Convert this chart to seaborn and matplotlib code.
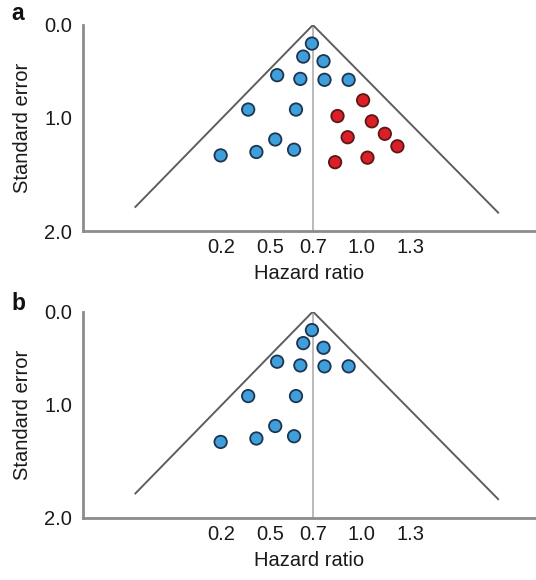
import numpy as np
import pandas as pd
import matplotlib
matplotlib.use("Agg")
import matplotlib.pyplot as plt
import seaborn as sns

# ---------------- data ----------------
hr_tick_labels = ["0.2", "0.5", "0.7", "1.0", "1.3"]
hr_tick_pos = [0.1, 1.12, 2.0, 3.0, 4.02]
se_ticks = [0.0, 1.0, 2.0]
se_tick_labels = ["0.0", "1.0", "2.0"]

# observed studies (blue)
obs_x = [1.98, 1.80, 2.22, 1.26, 1.74, 2.24, 2.74, 0.66, 1.65, 1.22, 0.83, 1.61, 0.09]
obs_se = [0.20, 0.34, 0.39, 0.54, 0.58, 0.59, 0.59, 0.91, 0.91, 1.19, 1.30, 1.28, 1.33]

# imputed studies (red, panel a only)
imp_x = [3.04, 2.51, 3.22, 2.72, 3.49, 3.75, 2.46, 3.13]
imp_se = [0.81, 0.98, 1.03, 1.17, 1.14, 1.25, 1.39, 1.35]

# funnel: apex and the two lower ends
funnel_x = [-1.69, 2.0, 5.85]
funnel_se = [1.79, 0.0, 1.84]
pooled_x = 2.0

# ---------------- style ----------------
sns.set_style("white")
plt.rcParams["font.family"] = ["Liberation Sans", "DejaVu Sans"]

BLUE = "#3f9fdb"
BLUE_EDGE = "#1d3550"
RED = "#dc1f26"
RED_EDGE = "#5a1818"
SPINE = "#8c8c8c"

def fwd(s):
    s = np.asarray(s, dtype=float)
    return np.where(s <= 1, 0.45 * s, 0.45 + 0.55 * (s - 1))

def inv(f):
    f = np.asarray(f, dtype=float)
    return np.where(f <= 0.45, f / 0.45, 1 + (f - 0.45) / 0.55)

df_a = pd.DataFrame({
    "x": obs_x + imp_x,
    "se": obs_se + imp_se,
    "group": ["observed"] * len(obs_x) + ["imputed"] * len(imp_x),
})
df_b = pd.DataFrame({"x": obs_x, "se": obs_se, "group": ["observed"] * len(obs_x)})

fig = plt.figure(figsize=(5.36, 5.80), dpi=100)
ax_a = fig.add_axes([0.1549, 0.6009, 0.8451, 0.356])
ax_b = fig.add_axes([0.1549, 0.1069, 0.8451, 0.356])

for ax, df, lab, ly in [(ax_a, df_a, "a", 1 - 14 / 580), (ax_b, df_b, "b", 1 - 304 / 580)]:
    ax.set_yscale("function", functions=(fwd, inv))
    # funnel
    ax.plot(funnel_x, funnel_se, color="#5e5e5e", lw=1.4, zorder=2, solid_capstyle="butt")
    ax.plot([pooled_x, pooled_x], [0.0, 2.0], color="#b4b4b4", lw=1.3, zorder=1)
    sns.scatterplot(
        data=df, x="x", y="se", hue="group",
        palette={"observed": BLUE, "imputed": RED},
        s=80, linewidth=0, legend=False, ax=ax, zorder=3,
    )
    cols = ax.collections[-1]
    edge = [BLUE_EDGE if g == "observed" else RED_EDGE for g in df["group"]]
    cols.set_edgecolors(edge)
    cols.set_linewidths(1.3)

    ax.set_xlim(-2.76, 6.62)
    ax.set_ylim(2.0, 0.0)
    ax.set_xticks(hr_tick_pos)
    ax.set_xticklabels(hr_tick_labels)
    ax.set_yticks(se_ticks)
    ax.set_yticklabels(se_tick_labels)
    ax.minorticks_off()
    ax.tick_params(axis="x", length=0, pad=5, labelsize=14.5, colors="#1a1a1a")
    ax.tick_params(axis="y", length=0, pad=8, labelsize=14.5, colors="#1a1a1a")
    ax.set_xlabel("Hazard ratio", fontsize=14.5, labelpad=5, color="#1a1a1a")
    ax.set_ylabel("Standard error", fontsize=14.5, labelpad=9, color="#1a1a1a")
    for side in ["top", "right"]:
        ax.spines[side].set_visible(False)
    for side in ["left", "bottom"]:
        ax.spines[side].set_color(SPINE)
        ax.spines[side].set_linewidth(2.0)
    ax.set_facecolor("white")
    fig.text(18 / 536, ly, lab, ha="center", va="center", fontsize=16.5, fontweight="bold", color="#111111")

fig.savefig("out.png", dpi=100, facecolor="white")
